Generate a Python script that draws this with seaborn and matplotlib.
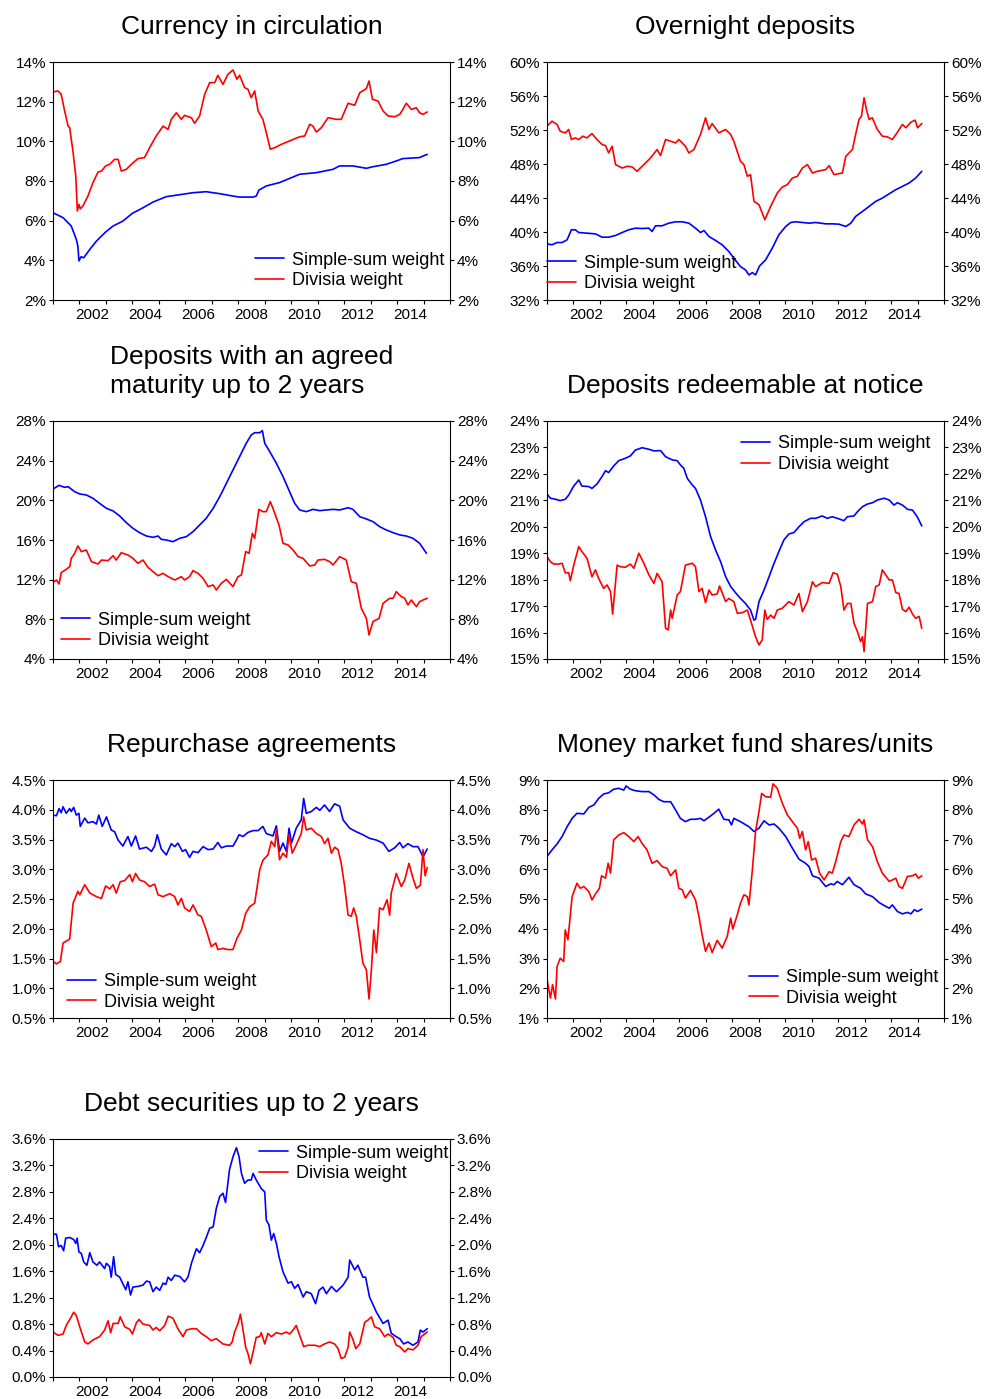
import numpy as np
import matplotlib
matplotlib.use("Agg")
import matplotlib.pyplot as plt
import seaborn as sns

sns.set_style("ticks")
plt.rcParams['font.family'] = ['Liberation Sans', 'DejaVu Sans']
plt.rcParams['axes.edgecolor'] = 'black'
plt.rcParams['axes.linewidth'] = 0.8
plt.rcParams['text.color'] = 'black'

# Currency in circulation
cur_ss_x = [2001.00, 2001.38, 2001.69, 2001.88, 2001.94, 2001.98, 2002.06, 2002.16, 2002.39, 2002.64,
            2002.99, 2003.27, 2003.64, 2004.00, 2004.40, 2004.78, 2005.28, 2005.79, 2006.29, 2006.79,
            2007.30, 2007.80, 2008.05, 2008.56, 2008.68, 2008.78, 2009.06, 2009.56, 2010.01, 2010.32,
            2010.95, 2011.58, 2011.83, 2012.33, 2012.84, 2013.09, 2013.59, 2013.97, 2014.22, 2014.85,
            2014.98, 2015.14]
cur_ss = [6.40, 6.15, 5.73, 5.06, 4.72, 3.97, 4.18, 4.13, 4.55, 4.97,
          5.43, 5.73, 5.98, 6.37, 6.65, 6.94, 7.21, 7.31, 7.41, 7.46,
          7.36, 7.24, 7.19, 7.19, 7.24, 7.54, 7.75, 7.92, 8.17, 8.34,
          8.42, 8.59, 8.76, 8.76, 8.64, 8.72, 8.84, 9.01, 9.13, 9.18,
          9.26, 9.34]
cur_dv_x = [2001.00, 2001.19, 2001.31, 2001.44, 2001.57, 2001.63, 2001.76, 2001.86, 2001.92, 2001.98,
            2002.03, 2002.13, 2002.32, 2002.51, 2002.70, 2002.83, 2002.99, 2003.14, 2003.33, 2003.46,
            2003.58, 2003.77, 2004.00, 2004.21, 2004.46, 2004.65, 2004.90, 2005.16, 2005.35, 2005.47,
            2005.66, 2005.85, 2005.97, 2006.23, 2006.35, 2006.54, 2006.73, 2006.92, 2007.11, 2007.23,
            2007.42, 2007.61, 2007.80, 2007.95, 2008.05, 2008.24, 2008.37, 2008.49, 2008.62, 2008.75,
            2008.93, 2009.06, 2009.21, 2009.38, 2009.63, 2009.94, 2010.32, 2010.51, 2010.70, 2010.82,
            2010.95, 2011.14, 2011.39, 2011.71, 2011.89, 2012.15, 2012.40, 2012.59, 2012.84, 2012.94,
            2013.07, 2013.28, 2013.47, 2013.66, 2013.91, 2014.10, 2014.22, 2014.35, 2014.54, 2014.73,
            2014.85, 2014.98, 2015.14]
cur_dv = [12.49, 12.54, 12.37, 11.53, 10.77, 10.69, 9.43, 8.25, 6.49, 6.82,
          6.60, 6.74, 7.24, 7.92, 8.45, 8.50, 8.76, 8.84, 9.09, 9.09,
          8.50, 8.59, 8.89, 9.13, 9.18, 9.68, 10.27, 10.77, 10.60, 11.11,
          11.44, 11.11, 11.31, 11.19, 10.91, 11.28, 12.37, 12.96, 12.96, 13.33,
          12.87, 13.38, 13.60, 13.13, 13.33, 12.71, 12.62, 12.20, 12.54, 11.53,
          11.11, 10.44, 9.60, 9.68, 9.85, 10.02, 10.23, 10.27, 10.86, 10.77,
          10.47, 10.69, 11.19, 11.11, 11.11, 11.92, 11.82, 12.45, 12.66, 13.04,
          12.12, 12.03, 11.53, 11.28, 11.24, 11.36, 11.61, 11.92, 11.61, 11.69,
          11.44, 11.36, 11.48]

# Overnight deposits
ovn_ss_x = [2001.00, 2001.19, 2001.38, 2001.57, 2001.76, 2001.92, 2002.07, 2002.20, 2002.51, 2002.83,
            2003.08, 2003.33, 2003.59, 2003.84, 2004.09, 2004.34, 2004.59, 2004.85, 2004.97, 2005.10,
            2005.35, 2005.60, 2005.86, 2006.11, 2006.36, 2006.61, 2006.80, 2006.93, 2007.12, 2007.37,
            2007.62, 2007.87, 2008.06, 2008.31, 2008.50, 2008.63, 2008.76, 2008.88, 2009.03, 2009.26,
            2009.51, 2009.76, 2010.02, 2010.21, 2010.39, 2010.65, 2010.90, 2011.15, 2011.53, 2011.78,
            2012.03, 2012.29, 2012.48, 2012.66, 2012.92, 2013.17, 2013.42, 2013.67, 2013.93, 2014.18,
            2014.43, 2014.68, 2014.93, 2015.16]
ovn_ss = [38.6, 38.5, 38.76, 38.76, 39.08, 40.26, 40.26, 39.94, 39.86, 39.78,
          39.39, 39.39, 39.59, 39.94, 40.26, 40.45, 40.41, 40.45, 40.06, 40.73,
          40.73, 41.04, 41.2, 41.2, 41.04, 40.45, 39.94, 40.18, 39.47, 39.0,
          38.49, 37.7, 36.91, 35.93, 35.54, 34.95, 35.22, 34.95, 36.0, 36.72,
          38.09, 39.67, 40.65, 41.12, 41.2, 41.12, 41.04, 41.12, 40.96, 40.96,
          40.92, 40.65, 41.04, 41.83, 42.42, 43.01, 43.6, 43.99, 44.5, 44.98,
          45.37, 45.76, 46.35, 47.14]
ovn_dv_x = [2001.00, 2001.19, 2001.38, 2001.50, 2001.69, 2001.82, 2001.92, 2002.07, 2002.20, 2002.35,
            2002.51, 2002.70, 2002.89, 2003.08, 2003.21, 2003.33, 2003.46, 2003.59, 2003.84, 2004.03,
            2004.22, 2004.40, 2004.66, 2004.91, 2005.16, 2005.29, 2005.48, 2005.67, 2005.86, 2005.98,
            2006.23, 2006.36, 2006.55, 2006.80, 2006.99, 2007.12, 2007.24, 2007.49, 2007.75, 2007.94,
            2008.06, 2008.31, 2008.44, 2008.57, 2008.69, 2008.82, 2009.01, 2009.23, 2009.45, 2009.70,
            2009.89, 2010.08, 2010.27, 2010.46, 2010.65, 2010.84, 2011.03, 2011.21, 2011.53, 2011.66,
            2011.84, 2012.16, 2012.29, 2012.54, 2012.66, 2012.79, 2012.88, 2012.98, 2013.07, 2013.17,
            2013.29, 2013.48, 2013.67, 2013.86, 2014.05, 2014.24, 2014.43, 2014.56, 2014.75, 2014.91,
            2015.00, 2015.16]
ovn_dv = [52.45, 53.04, 52.65, 51.86, 51.66, 52.06, 50.88, 51.07, 50.88, 51.27,
          51.07, 51.58, 50.88, 50.29, 50.17, 49.3, 50.09, 47.93, 47.53, 47.73,
          47.65, 47.14, 47.93, 48.71, 49.7, 48.99, 50.88, 50.68, 50.48, 50.88,
          50.09, 49.3, 49.7, 51.47, 53.43, 52.06, 52.76, 51.66, 52.06, 51.47,
          50.68, 48.32, 47.93, 46.55, 46.75, 43.6, 43.21, 41.44, 43.01, 44.58,
          45.29, 45.57, 46.35, 46.55, 47.53, 47.93, 46.94, 47.14, 47.34, 47.81,
          46.75, 46.94, 48.91, 49.7, 51.47, 53.24, 53.63, 55.79, 54.41, 53.24,
          53.44, 52.06, 51.27, 51.19, 50.88, 51.74, 52.65, 52.26, 52.92, 53.16,
          52.26, 52.76]

# Deposits with an agreed maturity up to 2 years
agr_ss_x = [2001.00, 2001.23, 2001.44, 2001.57, 2001.82, 2002.01, 2002.26, 2002.51, 2002.76, 2003.02,
            2003.27, 2003.52, 2003.77, 2004.02, 2004.27, 2004.53, 2004.78, 2004.97, 2005.09, 2005.28,
            2005.53, 2005.79, 2006.04, 2006.29, 2006.54, 2006.79, 2007.05, 2007.30, 2007.55, 2007.80,
            2008.05, 2008.30, 2008.49, 2008.62, 2008.81, 2008.91, 2009.00, 2009.19, 2009.44, 2009.69,
            2009.94, 2010.13, 2010.32, 2010.57, 2010.82, 2011.08, 2011.33, 2011.58, 2011.83, 2012.02,
            2012.15, 2012.33, 2012.59, 2012.84, 2013.09, 2013.34, 2013.59, 2013.85, 2014.10, 2014.35,
            2014.60, 2014.85, 2015.11]
agr_ss = [21.14, 21.51, 21.31, 21.38, 20.87, 20.64, 20.54, 20.2, 19.7, 19.19,
          18.93, 18.42, 17.75, 17.18, 16.74, 16.4, 16.27, 16.4, 16.07, 16.0,
          15.83, 16.17, 16.34, 16.84, 17.51, 18.19, 19.19, 20.37, 21.71, 23.06,
          24.4, 25.75, 26.59, 26.82, 26.82, 27.03, 25.75, 24.91, 23.73, 22.39,
          20.87, 19.7, 19.03, 18.86, 19.09, 18.96, 19.03, 19.09, 19.03, 19.16,
          19.26, 19.09, 18.35, 18.12, 17.85, 17.35, 17.01, 16.74, 16.51, 16.4,
          16.17, 15.67, 14.66]
agr_dv_x = [2001.00, 2001.13, 2001.23, 2001.31, 2001.50, 2001.63, 2001.69, 2001.82, 2001.94, 2002.07,
            2002.26, 2002.45, 2002.70, 2002.83, 2003.08, 2003.27, 2003.39, 2003.58, 2003.83, 2004.02,
            2004.21, 2004.40, 2004.59, 2004.78, 2004.97, 2005.16, 2005.35, 2005.60, 2005.85, 2005.97,
            2006.16, 2006.29, 2006.48, 2006.67, 2006.86, 2007.05, 2007.17, 2007.36, 2007.55, 2007.80,
            2007.99, 2008.12, 2008.28, 2008.41, 2008.53, 2008.62, 2008.78, 2008.93, 2009.06, 2009.21,
            2009.31, 2009.54, 2009.69, 2009.88, 2010.07, 2010.26, 2010.45, 2010.70, 2010.89, 2011.01,
            2011.26, 2011.45, 2011.58, 2011.83, 2011.96, 2012.08, 2012.27, 2012.46, 2012.65, 2012.84,
            2012.94, 2013.09, 2013.32, 2013.47, 2013.72, 2013.85, 2013.97, 2014.16, 2014.29, 2014.41,
            2014.54, 2014.73, 2014.85, 2014.98, 2015.14]
agr_dv = [11.7, 11.97, 11.56, 12.71, 13.04, 13.31, 14.15, 14.66, 15.4, 14.83,
          14.99, 13.82, 13.58, 13.98, 13.92, 14.42, 13.98, 14.72, 14.49, 14.15,
          13.65, 13.98, 13.24, 12.81, 12.4, 12.64, 12.3, 11.97, 12.3, 11.97,
          12.3, 12.91, 12.64, 12.14, 11.3, 11.47, 10.96, 11.63, 12.03, 11.3,
          12.3, 12.47, 14.83, 14.66, 16.67, 16.17, 19.09, 18.86, 18.86, 19.87,
          19.19, 17.51, 15.67, 15.5, 14.99, 14.32, 14.15, 13.38, 13.48, 13.98,
          14.05, 13.82, 13.48, 14.32, 14.15, 13.98, 11.8, 11.63, 9.11, 8.1,
          6.42, 7.77, 8.1, 9.61, 10.12, 10.12, 10.79, 10.29, 10.12, 9.45,
          9.95, 9.28, 9.78, 9.95, 10.12]

# Deposits redeemable at notice
ntc_ss_x = [2001.00, 2001.13, 2001.32, 2001.50, 2001.69, 2001.82, 2002.01, 2002.20, 2002.32, 2002.58,
            2002.70, 2002.89, 2003.08, 2003.21, 2003.33, 2003.52, 2003.71, 2003.96, 2004.15, 2004.34,
            2004.59, 2004.85, 2005.04, 2005.29, 2005.48, 2005.73, 2005.92, 2006.04, 2006.17, 2006.30,
            2006.49, 2006.61, 2006.80, 2006.99, 2007.18, 2007.37, 2007.56, 2007.75, 2007.94, 2008.12,
            2008.31, 2008.50, 2008.69, 2008.82, 2008.88, 2009.01, 2009.20, 2009.39, 2009.58, 2009.76,
            2009.95, 2010.14, 2010.33, 2010.52, 2010.71, 2010.96, 2011.15, 2011.40, 2011.59, 2011.78,
            2011.97, 2012.22, 2012.35, 2012.60, 2012.73, 2012.92, 2013.11, 2013.30, 2013.48, 2013.74,
            2013.93, 2014.11, 2014.24, 2014.43, 2014.62, 2014.81, 2015.00, 2015.16]
ntc_ss = [21.24, 21.08, 21.04, 20.99, 21.04, 21.2, 21.54, 21.77, 21.54, 21.52,
          21.45, 21.62, 21.9, 22.12, 22.05, 22.3, 22.5, 22.59, 22.68, 22.9,
          22.99, 22.93, 22.87, 22.88, 22.65, 22.53, 22.5, 22.34, 22.21, 21.83,
          21.58, 21.45, 21.01, 20.38, 19.63, 19.12, 18.68, 18.11, 17.74, 17.51,
          17.29, 17.1, 16.85, 16.47, 16.5, 17.17, 17.61, 18.11, 18.62, 19.06,
          19.5, 19.73, 19.78, 20.0, 20.19, 20.32, 20.32, 20.41, 20.32, 20.38,
          20.32, 20.23, 20.38, 20.41, 20.57, 20.76, 20.86, 20.91, 21.01, 21.08,
          21.01, 20.82, 20.91, 20.82, 20.66, 20.63, 20.36, 20.03]
ntc_dv_x = [2001.00, 2001.13, 2001.25, 2001.44, 2001.57, 2001.69, 2001.82, 2001.88, 2002.01, 2002.20,
            2002.32, 2002.51, 2002.70, 2002.83, 2002.95, 2003.14, 2003.27, 2003.40, 2003.48, 2003.65,
            2003.77, 2003.96, 2004.15, 2004.28, 2004.47, 2004.66, 2004.85, 2005.04, 2005.16, 2005.35,
            2005.48, 2005.58, 2005.67, 2005.73, 2005.92, 2006.04, 2006.23, 2006.49, 2006.61, 2006.74,
            2006.86, 2006.99, 2007.12, 2007.24, 2007.43, 2007.52, 2007.75, 2007.87, 2008.06, 2008.19,
            2008.38, 2008.57, 2008.69, 2008.88, 2009.01, 2009.13, 2009.23, 2009.32, 2009.45, 2009.58,
            2009.70, 2009.89, 2010.14, 2010.33, 2010.52, 2010.65, 2010.84, 2011.03, 2011.15, 2011.40,
            2011.66, 2011.81, 2011.97, 2012.10, 2012.22, 2012.35, 2012.48, 2012.60, 2012.73, 2012.85,
            2012.92, 2012.98, 2013.11, 2013.30, 2013.42, 2013.55, 2013.67, 2013.80, 2013.93, 2014.05,
            2014.18, 2014.30, 2014.43, 2014.56, 2014.68, 2014.81, 2014.93, 2015.06, 2015.16]
ntc_dv = [18.87, 18.68, 18.59, 18.59, 18.62, 18.26, 18.26, 17.96, 18.55, 19.25,
          19.06, 18.81, 18.11, 18.37, 18.05, 17.67, 17.8, 17.55, 16.7, 18.55,
          18.49, 18.47, 18.59, 18.43, 19.0, 18.62, 18.18, 17.86, 18.24, 17.92,
          16.16, 16.1, 16.85, 16.54, 17.42, 17.55, 18.55, 18.62, 18.49, 17.55,
          17.67, 17.13, 17.61, 17.42, 17.46, 17.76, 17.17, 17.29, 17.17, 16.73,
          16.75, 16.85, 16.47, 15.84, 15.53, 15.72, 16.85, 16.5, 16.66, 16.54,
          16.85, 16.92, 17.17, 17.04, 17.48, 16.79, 17.17, 17.92, 17.74, 17.89,
          17.86, 18.26, 18.21, 17.74, 16.85, 17.1, 17.1, 16.35, 16.03, 15.66,
          15.84, 15.28, 17.1, 17.17, 17.74, 17.8, 18.37, 18.18, 17.99, 17.99,
          17.51, 17.48, 16.88, 16.79, 16.96, 16.7, 16.54, 16.61, 16.16]

# Repurchase agreements
rep_ss_x = [2001.00, 2001.13, 2001.23, 2001.31, 2001.38, 2001.50, 2001.63, 2001.69, 2001.78, 2001.88,
            2001.98, 2002.03, 2002.20, 2002.32, 2002.51, 2002.64, 2002.73, 2002.86, 2003.02, 2003.20,
            2003.33, 2003.46, 2003.64, 2003.83, 2003.96, 2004.12, 2004.27, 2004.53, 2004.72, 2004.84,
            2004.94, 2005.09, 2005.28, 2005.47, 2005.60, 2005.72, 2005.89, 2006.01, 2006.16, 2006.29,
            2006.48, 2006.67, 2006.86, 2007.05, 2007.23, 2007.36, 2007.55, 2007.80, 2007.93, 2008.03,
            2008.18, 2008.37, 2008.56, 2008.75, 2008.93, 2009.06, 2009.31, 2009.44, 2009.56, 2009.69,
            2009.82, 2009.92, 2010.01, 2010.19, 2010.38, 2010.47, 2010.57, 2010.76, 2010.95, 2011.08,
            2011.26, 2011.45, 2011.64, 2011.83, 2011.96, 2012.21, 2012.46, 2012.71, 2012.96, 2013.22,
            2013.47, 2013.69, 2013.91, 2014.10, 2014.22, 2014.41, 2014.60, 2014.79, 2014.98, 2015.14]
rep_ss = [3.91, 3.9, 4.02, 3.95, 4.05, 3.94, 4.02, 3.97, 4.04, 3.91,
          3.94, 3.72, 3.86, 3.78, 3.8, 3.76, 3.91, 3.72, 3.88, 3.66,
          3.63, 3.49, 3.39, 3.55, 3.39, 3.56, 3.34, 3.37, 3.3, 3.39,
          3.58, 3.34, 3.24, 3.43, 3.38, 3.44, 3.3, 3.33, 3.2, 3.3,
          3.28, 3.38, 3.33, 3.34, 3.45, 3.36, 3.39, 3.39, 3.49, 3.58,
          3.55, 3.62, 3.65, 3.65, 3.72, 3.6, 3.56, 3.73, 3.3, 3.44,
          3.3, 3.69, 3.44, 3.69, 3.83, 4.19, 3.94, 3.97, 4.04, 3.99,
          4.08, 3.97, 4.1, 4.06, 3.83, 3.69, 3.63, 3.58, 3.52, 3.49,
          3.44, 3.3, 3.36, 3.45, 3.36, 3.43, 3.38, 3.38, 3.21, 3.34]
rep_dv_x = [2001.00, 2001.13, 2001.28, 2001.38, 2001.57, 2001.63, 2001.76, 2001.94, 2002.01, 2002.20,
            2002.39, 2002.64, 2002.83, 2002.99, 2003.14, 2003.27, 2003.39, 2003.54, 2003.71, 2003.90,
            2004.00, 2004.12, 2004.27, 2004.46, 2004.65, 2004.84, 2004.97, 2005.16, 2005.41, 2005.60,
            2005.72, 2005.85, 2005.97, 2006.16, 2006.29, 2006.48, 2006.60, 2006.79, 2006.98, 2007.15,
            2007.23, 2007.42, 2007.61, 2007.80, 2007.95, 2008.12, 2008.28, 2008.43, 2008.62, 2008.81,
            2008.93, 2009.12, 2009.25, 2009.38, 2009.44, 2009.56, 2009.69, 2009.82, 2009.92, 2010.04,
            2010.19, 2010.38, 2010.47, 2010.57, 2010.76, 2010.95, 2011.14, 2011.26, 2011.39, 2011.52,
            2011.64, 2011.77, 2011.89, 2012.02, 2012.15, 2012.27, 2012.36, 2012.46, 2012.59, 2012.71,
            2012.84, 2012.94, 2013.03, 2013.12, 2013.22, 2013.34, 2013.47, 2013.62, 2013.72, 2013.78,
            2013.97, 2014.16, 2014.29, 2014.45, 2014.60, 2014.73, 2014.88, 2014.98, 2015.06, 2015.14]
rep_dv = [1.45, 1.41, 1.45, 1.76, 1.81, 1.83, 2.43, 2.63, 2.57, 2.74,
          2.6, 2.54, 2.51, 2.72, 2.67, 2.74, 2.6, 2.79, 2.81, 2.91,
          2.79, 2.93, 2.82, 2.79, 2.71, 2.75, 2.57, 2.54, 2.59, 2.54,
          2.4, 2.51, 2.35, 2.29, 2.4, 2.23, 2.21, 1.98, 1.7, 1.76,
          1.65, 1.67, 1.65, 1.65, 1.84, 1.98, 2.26, 2.37, 2.43, 2.99,
          3.15, 3.24, 3.47, 3.38, 3.67, 3.16, 3.27, 3.2, 3.58, 3.27,
          3.41, 3.6, 3.88, 3.66, 3.69, 3.6, 3.55, 3.43, 3.52, 3.27,
          3.37, 3.33, 3.1, 2.71, 2.23, 2.21, 2.35, 2.21, 1.81, 1.42,
          1.31, 0.82, 1.31, 1.98, 1.6, 2.35, 2.32, 2.49, 2.23, 2.6,
          2.93, 2.71, 2.82, 3.1, 2.85, 2.68, 2.73, 3.33, 2.89, 3.03]

# Money market fund shares/units
mmf_ss_x = [2001.00, 2001.19, 2001.38, 2001.57, 2001.76, 2001.95, 2002.13, 2002.39, 2002.58, 2002.77,
            2002.95, 2003.14, 2003.33, 2003.52, 2003.71, 2003.90, 2003.99, 2004.15, 2004.34, 2004.59,
            2004.85, 2005.04, 2005.22, 2005.41, 2005.67, 2005.86, 2006.04, 2006.23, 2006.42, 2006.61,
            2006.80, 2006.93, 2007.12, 2007.31, 2007.49, 2007.68, 2007.87, 2007.97, 2008.06, 2008.31,
            2008.63, 2008.82, 2009.01, 2009.20, 2009.39, 2009.58, 2009.76, 2010.02, 2010.27, 2010.52,
            2010.77, 2010.90, 2011.03, 2011.28, 2011.53, 2011.72, 2011.84, 2011.97, 2012.16, 2012.41,
            2012.60, 2012.85, 2013.04, 2013.30, 2013.55, 2013.80, 2013.93, 2014.05, 2014.24, 2014.43,
            2014.62, 2014.75, 2014.88, 2015.00, 2015.16]
mmf_ss = [6.43, 6.65, 6.85, 7.1, 7.43, 7.71, 7.88, 7.86, 8.08, 8.16,
          8.38, 8.53, 8.57, 8.69, 8.72, 8.66, 8.8, 8.69, 8.64, 8.61,
          8.61, 8.5, 8.35, 8.27, 8.27, 7.99, 7.71, 7.6, 7.68, 7.68,
          7.71, 7.63, 7.75, 7.88, 8.02, 7.68, 7.66, 7.49, 7.71, 7.6,
          7.43, 7.27, 7.38, 7.63, 7.49, 7.52, 7.38, 7.1, 6.71, 6.34,
          6.2, 6.09, 5.78, 5.7, 5.42, 5.51, 5.48, 5.59, 5.48, 5.73,
          5.48, 5.36, 5.17, 5.08, 4.88, 4.75, 4.69, 4.8, 4.58, 4.5,
          4.55, 4.5, 4.64, 4.58, 4.66]
mmf_dv_x = [2001.00, 2001.13, 2001.21, 2001.32, 2001.38, 2001.50, 2001.63, 2001.69, 2001.79, 2001.95,
            2002.13, 2002.26, 2002.39, 2002.58, 2002.70, 2002.83, 2002.98, 2003.06, 2003.21, 2003.31,
            2003.40, 2003.52, 2003.71, 2003.90, 2004.09, 2004.28, 2004.44, 2004.59, 2004.78, 2004.97,
            2005.16, 2005.35, 2005.54, 2005.67, 2005.86, 2005.98, 2006.11, 2006.23, 2006.42, 2006.61,
            2006.74, 2006.86, 2006.99, 2007.12, 2007.24, 2007.43, 2007.62, 2007.81, 2007.94, 2008.02,
            2008.19, 2008.31, 2008.44, 2008.57, 2008.63, 2008.76, 2008.88, 2009.01, 2009.11, 2009.26,
            2009.45, 2009.54, 2009.70, 2009.89, 2010.08, 2010.27, 2010.46, 2010.55, 2010.65, 2010.77,
            2010.87, 2011.00, 2011.15, 2011.30, 2011.47, 2011.66, 2011.78, 2011.91, 2012.10, 2012.22,
            2012.41, 2012.60, 2012.79, 2012.92, 2012.98, 2013.11, 2013.30, 2013.48, 2013.67, 2013.93,
            2014.05, 2014.18, 2014.30, 2014.43, 2014.62, 2014.81, 2014.93, 2015.03, 2015.16]
mmf_dv = [2.29, 1.67, 2.12, 1.64, 2.73, 3.01, 2.9, 3.96, 3.63, 5.08,
          5.53, 5.36, 5.42, 5.25, 4.97, 5.17, 5.36, 5.78, 5.7, 6.2,
          5.87, 6.99, 7.15, 7.23, 7.1, 6.93, 7.1, 6.87, 6.65, 6.2,
          6.29, 6.09, 6.03, 5.78, 5.98, 5.36, 5.31, 5.03, 5.29, 4.97,
          4.41, 3.8, 3.24, 3.52, 3.2, 3.61, 3.35, 3.74, 4.36, 3.99,
          4.47, 4.86, 5.14, 5.08, 4.8, 5.98, 7.27, 7.94, 8.55, 8.44,
          8.42, 8.87, 8.72, 8.22, 7.83, 7.6, 7.38, 7.04, 7.27, 6.65,
          6.93, 6.31, 6.37, 5.87, 5.64, 5.92, 5.87, 6.26, 6.93, 7.15,
          7.1, 7.49, 7.68, 7.52, 7.66, 6.99, 6.76, 6.26, 5.87, 5.59,
          5.64, 5.7, 5.42, 5.36, 5.76, 5.78, 5.84, 5.7, 5.78]

# Debt securities up to 2 years
dbt_ss_x = [2001.00, 2001.13, 2001.21, 2001.31, 2001.40, 2001.48, 2001.63, 2001.78, 2001.86, 2001.91,
            2001.98, 2002.07, 2002.16, 2002.28, 2002.39, 2002.51, 2002.66, 2002.76, 2002.95, 2003.02,
            2003.14, 2003.20, 2003.29, 2003.37, 2003.52, 2003.64, 2003.75, 2003.83, 2003.93, 2004.02,
            2004.21, 2004.40, 2004.53, 2004.65, 2004.78, 2004.90, 2005.03, 2005.16, 2005.26, 2005.35,
            2005.47, 2005.60, 2005.79, 2005.97, 2006.10, 2006.23, 2006.42, 2006.54, 2006.67, 2006.79,
            2006.92, 2007.05, 2007.17, 2007.30, 2007.42, 2007.52, 2007.67, 2007.80, 2007.93, 2008.03,
            2008.12, 2008.24, 2008.37, 2008.49, 2008.56, 2008.68, 2008.87, 2009.00, 2009.06, 2009.16,
            2009.25, 2009.34, 2009.44, 2009.54, 2009.69, 2009.88, 2010.01, 2010.13, 2010.26, 2010.45,
            2010.57, 2010.76, 2010.92, 2011.05, 2011.20, 2011.33, 2011.52, 2011.71, 2011.96, 2012.15,
            2012.21, 2012.40, 2012.52, 2012.71, 2012.81, 2012.96, 2013.22, 2013.47, 2013.66, 2013.78,
            2013.97, 2014.10, 2014.25, 2014.41, 2014.60, 2014.79, 2014.88, 2014.98, 2015.14]
dbt_ss = [2.16, 2.16, 1.97, 1.99, 1.91, 2.1, 2.11, 2.08, 2.02, 2.1,
          1.89, 1.87, 1.74, 1.69, 1.88, 1.74, 1.69, 1.74, 1.64, 1.72,
          1.67, 1.51, 1.82, 1.55, 1.51, 1.41, 1.32, 1.44, 1.24, 1.36,
          1.37, 1.39, 1.45, 1.44, 1.29, 1.36, 1.31, 1.42, 1.4, 1.51,
          1.46, 1.54, 1.52, 1.44, 1.51, 1.72, 1.94, 1.88, 1.99, 2.11,
          2.25, 2.27, 2.55, 2.73, 2.78, 2.64, 3.14, 3.33, 3.47, 3.33,
          3.08, 2.93, 2.98, 2.98, 3.08, 2.98, 2.85, 2.8, 2.37, 2.3,
          2.07, 2.17, 2.02, 1.82, 1.59, 1.42, 1.44, 1.34, 1.4, 1.21,
          1.29, 1.26, 1.11, 1.31, 1.36, 1.26, 1.37, 1.29, 1.39, 1.51,
          1.77, 1.62, 1.69, 1.51, 1.51, 1.21, 0.98, 0.81, 0.86, 0.66,
          0.61, 0.58, 0.5, 0.53, 0.48, 0.53, 0.71, 0.68, 0.73]
dbt_dv_x = [2001.00, 2001.19, 2001.38, 2001.50, 2001.69, 2001.78, 2001.88, 2002.01, 2002.20, 2002.32,
            2002.51, 2002.76, 2002.95, 2003.08, 2003.18, 2003.27, 2003.46, 2003.54, 2003.71, 2003.90,
            2004.00, 2004.15, 2004.25, 2004.40, 2004.65, 2004.78, 2004.90, 2005.03, 2005.22, 2005.35,
            2005.53, 2005.72, 2005.91, 2006.04, 2006.23, 2006.42, 2006.60, 2006.79, 2006.98, 2007.17,
            2007.42, 2007.67, 2007.77, 2007.86, 2007.99, 2008.08, 2008.18, 2008.28, 2008.37, 2008.46,
            2008.56, 2008.68, 2008.81, 2008.87, 2009.00, 2009.12, 2009.25, 2009.44, 2009.63, 2009.82,
            2009.94, 2010.07, 2010.19, 2010.32, 2010.47, 2010.63, 2010.89, 2011.08, 2011.26, 2011.45,
            2011.64, 2011.77, 2011.89, 2012.02, 2012.15, 2012.21, 2012.33, 2012.44, 2012.59, 2012.78,
            2012.90, 2013.03, 2013.15, 2013.34, 2013.53, 2013.66, 2013.85, 2013.97, 2014.10, 2014.29,
            2014.41, 2014.60, 2014.79, 2014.91, 2015.14]
dbt_dv = [0.68, 0.63, 0.65, 0.78, 0.91, 0.98, 0.93, 0.76, 0.53, 0.5,
          0.56, 0.61, 0.71, 0.85, 0.67, 0.81, 0.81, 0.91, 0.76, 0.72,
          0.65, 0.82, 0.87, 0.8, 0.78, 0.71, 0.75, 0.7, 0.78, 0.92,
          0.89, 0.73, 0.61, 0.71, 0.73, 0.73, 0.66, 0.61, 0.55, 0.58,
          0.5, 0.48, 0.53, 0.68, 0.81, 0.95, 0.71, 0.45, 0.35, 0.2,
          0.38, 0.6, 0.61, 0.67, 0.5, 0.66, 0.61, 0.67, 0.65, 0.68,
          0.65, 0.71, 0.78, 0.63, 0.46, 0.48, 0.48, 0.46, 0.5, 0.53,
          0.5, 0.43, 0.28, 0.3, 0.45, 0.68, 0.57, 0.43, 0.5, 0.83,
          0.86, 0.91, 0.76, 0.73, 0.61, 0.65, 0.6, 0.48, 0.46, 0.38,
          0.43, 0.41, 0.48, 0.61, 0.68]

year_labels = [2002, 2004, 2006, 2008, 2010, 2012, 2014]
ss_label = "Simple-sum weight"
dv_label = "Divisia weight"

# (title, ss_x, ss_y, dv_x, dv_y, ymin, ymax, ystep, fmt, col, row, legend loc, legend anchor)
panels = [
    ("Currency in circulation", cur_ss_x, cur_ss, cur_dv_x, cur_dv, 2, 14, 2, "{:.0f}%", 0, 0, "lower right", (0.985, 0.045)),
    ("Overnight deposits", ovn_ss_x, ovn_ss, ovn_dv_x, ovn_dv, 32, 60, 4, "{:.0f}%", 1, 0, "lower left", (0.0, 0.032)),
    ("Deposits with an agreed\nmaturity up to 2 years", agr_ss_x, agr_ss, agr_dv_x, agr_dv, 4, 28, 4, "{:.0f}%", 0, 1, "lower left", (0.02, 0.041)),
    ("Deposits redeemable at notice", ntc_ss_x, ntc_ss, ntc_dv_x, ntc_dv, 15, 24, 1, "{:.0f}%", 1, 1, "upper right", (0.965, 0.94)),
    ("Repurchase agreements", rep_ss_x, rep_ss, rep_dv_x, rep_dv, 0.5, 4.5, 0.5, "{:.1f}%", 0, 2, "lower left", (0.035, 0.031)),
    ("Money market fund shares/units", mmf_ss_x, mmf_ss, mmf_dv_x, mmf_dv, 1, 9, 1, "{:.0f}%", 1, 2, "lower right", (0.985, 0.047)),
    ("Debt securities up to 2 years", dbt_ss_x, dbt_ss, dbt_dv_x, dbt_dv, 0.0, 3.6, 0.4, "{:.1f}%", 0, 3, "upper right", (0.995, 0.976)),
]

W, H = 987, 1399
fig = plt.figure(figsize=(W / 100, H / 100), dpi=100)
col_left = [53, 547]
row_top = [62, 421, 780, 1139]
ax_w, ax_h = 397, 238

for (title, sx, sy, dx, dy, ymin, ymax, ystep, fmt, col, row, loc, anchor) in panels:
    x0 = col_left[col]
    y1 = row_top[row] + ax_h
    ax = fig.add_axes([x0 / W, 1 - y1 / H, ax_w / W, ax_h / H])

    sns.lineplot(x=sx, y=sy, ax=ax, color="#0000ff", linewidth=1.2, label=ss_label,
                 estimator=None, sort=False)
    sns.lineplot(x=dx, y=dy, ax=ax, color="#ff0000", linewidth=1.2, label=dv_label,
                 estimator=None, sort=False)

    ax.set_xlim(2001, 2016)
    ax.set_ylim(ymin, ymax)
    yt = np.arange(ymin, ymax + ystep / 2, ystep)
    ax.set_yticks(yt)
    ax.set_yticklabels([fmt.format(v) for v in yt])

    # year boundaries get tick marks, labels sit in the middle of every other year
    ax.set_xticks(range(2001, 2017))
    ax.set_xticklabels([])
    ax.set_xticks([y + 0.5 for y in year_labels], minor=True)
    ax.set_xticklabels([str(y) for y in year_labels], minor=True)
    ax.tick_params(axis="x", which="major", direction="out", length=3, width=0.8, color="black")
    ax.tick_params(axis="x", which="minor", length=0, pad=6, labelsize=11, colors="black")
    ax.tick_params(axis="y", which="major", direction="out", length=3, width=0.8,
                   left=True, right=True, labelleft=True, labelright=True,
                   labelsize=11, pad=2, colors="black")

    ax.set_xlabel("")
    ax.set_ylabel("")
    ax.set_title(title, fontsize=19, pad=20, color="black", linespacing=1.3, multialignment="left")

    ax.legend(loc=loc, bbox_to_anchor=anchor, frameon=False, fontsize=13,
              handlelength=1.6, handletextpad=0.45, labelspacing=0.2,
              borderpad=0, borderaxespad=0, labelcolor="black")

fig.savefig("out.png", dpi=100)
